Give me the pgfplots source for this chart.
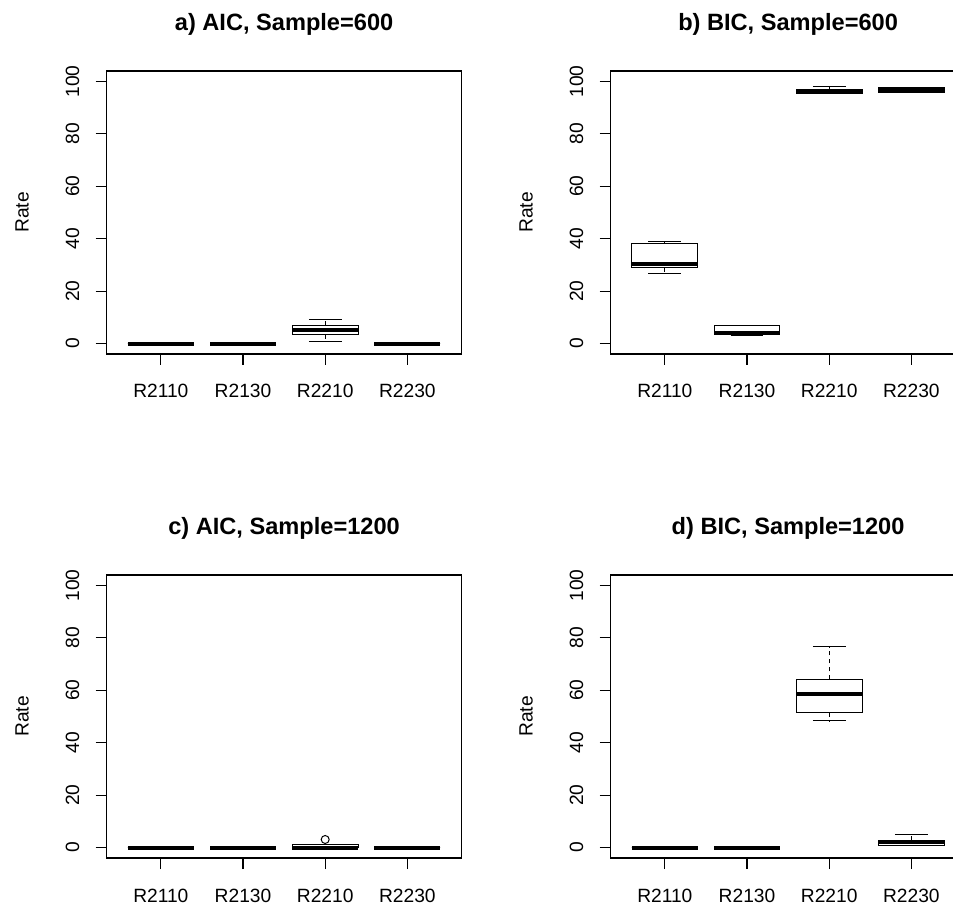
\documentclass[border=0pt]{standalone}
\usepackage{fontspec}
\setmainfont{Liberation Sans}
\usepackage{pgfplots}
\pgfplotsset{compat=1.18}
\usepgfplotslibrary{statistics}

\pgfplotsset{
  rpanel/.style={
    scale only axis, width=177.5pt, height=141.5pt,
    anchor=south west,
    xmin=0.34, xmax=4.66, ymin=-4, ymax=104,
    xtick={1,2,3,4}, xticklabels={R2110,R2130,R2210,R2230},
    ytick={0,20,40,60,80,100},
    tick pos=left, tick align=outside, major tick length=5.5pt,
    axis line style={line width=0.6pt},
    every tick/.style={black, line width=0.6pt},
    /pgf/number format/assume math mode=true,
    ticklabel style={font=\fontsize{9.6}{11}\selectfont},
    xticklabel style={anchor=base, yshift=-16.5pt},
    yticklabel style={xshift=-8.3pt, rotate=90, anchor=base},
    ylabel={Rate},
    ylabel style={at={(axis description cs:-0.22,0.5)}, anchor=base,
      font=\fontsize{9.6}{11}\selectfont},
    title style={at={(0.5,1)}, anchor=base, yshift=14pt,
      font=\bfseries\fontsize{11.8}{14}\selectfont},
    boxplot/draw direction=y,
    boxplot/box extend=0.8,
    boxplot/whisker extend=0.4,
    boxplot/every median/.style={line width=2pt},
    boxplot/draw/lower whisker/.code={%
      \draw[dash pattern=on 2pt off 2pt]
        (boxplot box cs:\pgfplotsboxplotvalue{lower quartile},0.5) --
        (boxplot box cs:\pgfplotsboxplotvalue{lower whisker},0.5);
      \draw (boxplot whisker cs:\pgfplotsboxplotvalue{lower whisker},0) --
        (boxplot whisker cs:\pgfplotsboxplotvalue{lower whisker},1);
    },
    boxplot/draw/upper whisker/.code={%
      \draw[dash pattern=on 2pt off 2pt]
        (boxplot box cs:\pgfplotsboxplotvalue{upper quartile},0.5) --
        (boxplot box cs:\pgfplotsboxplotvalue{upper whisker},0.5);
      \draw (boxplot whisker cs:\pgfplotsboxplotvalue{upper whisker},0) --
        (boxplot whisker cs:\pgfplotsboxplotvalue{upper whisker},1);
    },
  }
}

% position, lower whisker, lower quartile, median, upper quartile, upper whisker
\newcommand\rbox[6]{%
  \addplot[black, line width=0.5pt, boxplot prepared={draw position=#1,
    lower whisker=#2, lower quartile=#3, median=#4,
    upper quartile=#5, upper whisker=#6}] coordinates {};}

\begin{document}
\begin{tikzpicture}
\path[use as bounding box] (0,0) rectangle (476.5pt,452.5pt);

% a) AIC, Sample=600
\begin{axis}[rpanel, at={(53.3pt,275.5pt)}, title={a) AIC, Sample=600}]
\rbox{1}{0}{0}{0}{0}{0}
\rbox{2}{0}{0}{0}{0}{0}
\rbox{3}{0.8}{3.4}{5}{7}{9}
\rbox{4}{0}{0}{0}{0}{0}
\end{axis}

% b) BIC, Sample=600
\begin{axis}[rpanel, at={(305.3pt,275.5pt)}, title={b) BIC, Sample=600}]
\rbox{1}{26.9}{29}{30.5}{38.2}{39}
\rbox{2}{3}{3.4}{4}{7}{7}
\rbox{3}{95.5}{95.5}{96}{97}{97.9}
\rbox{4}{95.8}{95.8}{96.8}{97.8}{97.8}
\end{axis}

% c) AIC, Sample=1200
\begin{axis}[rpanel, at={(53.3pt,23.5pt)}, title={c) AIC, Sample=1200}]
\rbox{1}{0}{0}{0}{0}{0}
\rbox{2}{0}{0}{0}{0}{0}
\rbox{3}{0}{0}{0}{1}{1}
\rbox{4}{0}{0}{0}{0}{0}
\addplot[only marks, mark=o, mark size=2pt, black, line width=0.5pt] coordinates {(3,3.06)};
\end{axis}

% d) BIC, Sample=1200
\begin{axis}[rpanel, at={(305.3pt,23.5pt)}, title={d) BIC, Sample=1200}]
\rbox{1}{0}{0}{0}{0}{0}
\rbox{2}{0}{0}{0}{0}{0}
\rbox{3}{48.4}{51.5}{58.5}{64.2}{76.7}
\rbox{4}{0.8}{0.8}{2}{2.8}{5.1}
\end{axis}
\end{tikzpicture}
\end{document}
